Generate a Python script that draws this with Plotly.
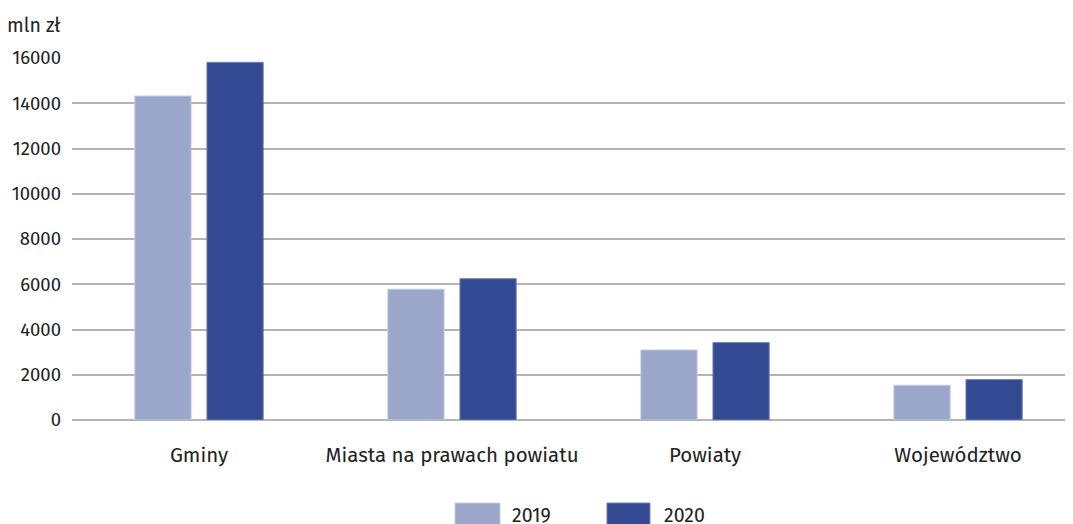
import plotly.graph_objects as go

categories = ["Gminy", "Miasta na prawach powiatu", "Powiaty", "Województwo"]
values_2019 = [14320, 5780, 3095, 1535]
values_2020 = [15810, 6245, 3420, 1785]
series_names = ["2019", "2020"]
tick_vals = [0, 2000, 4000, 6000, 8000, 10000, 12000, 14000, 16000]
tick_text = [str(v) for v in tick_vals]

colors = ["#9aa7ca", "#334a93"]
outlines = ["#c3cbe2", "#6f80b8"]

fig = go.Figure()
for name, vals, c, o in zip(series_names, [values_2019, values_2020], colors, outlines):
    fig.add_trace(go.Bar(
        x=categories, y=vals, name=name, showlegend=False,
        marker=dict(color=c, line=dict(color=o, width=1)),
    ))

font_family = "Fira Sans, Roboto, Noto Sans, sans-serif"
txt = "#222222"

# legend drawn as swatches + labels below the plot (paper coordinates)
legend_x = [(0.3796, 0.4242), (0.5302, 0.5728)]
legend_text_x = [0.4341, 0.5847]
shapes = []
annotations = []
for (x0, x1), tx, name, c, o in zip(legend_x, legend_text_x, series_names, colors, outlines):
    shapes.append(dict(type="rect", xref="paper", yref="paper", x0=x0, x1=x1,
                       y0=-0.30, y1=-0.2293, fillcolor=c, line=dict(color=o, width=1)))
    annotations.append(dict(text=name, xref="paper", yref="paper", x=tx, xanchor="left",
                            y=-0.2625, yanchor="middle", showarrow=False,
                            font=dict(size=19.5, color=txt)))

annotations.append(dict(text="mln zł", xref="paper", yref="paper", x=0, xanchor="left",
                        xshift=-67, y=1, yshift=33, yanchor="middle", showarrow=False,
                        font=dict(size=19.5, color=txt)))

fig.update_layout(
    width=1073, height=524,
    margin=dict(l=64, r=0, t=50, b=112, autoexpand=False),
    paper_bgcolor="white", plot_bgcolor="white",
    barmode="group", bargap=0.43, bargroupgap=0.22,
    font=dict(family=font_family, size=18, color=txt),
    showlegend=False,
    xaxis=dict(showgrid=False, showline=False, ticks="", ticklabelstandoff=20,
               range=[-0.502, 3.486], automargin=False,
               tickfont=dict(size=20.5, color=txt)),
    yaxis=dict(range=[0, 16000], tickvals=tick_vals, ticktext=tick_text, showgrid=True,
               gridcolor="#b4b4b4", gridwidth=1.5, zeroline=True,
               zerolinecolor="#b4b4b4", zerolinewidth=1.5, automargin=False,
               ticks="", ticklabelstandoff=10, tickfont=dict(size=18.5, color=txt)),
    shapes=shapes,
    annotations=annotations,
)

fig.write_html("out.html")
